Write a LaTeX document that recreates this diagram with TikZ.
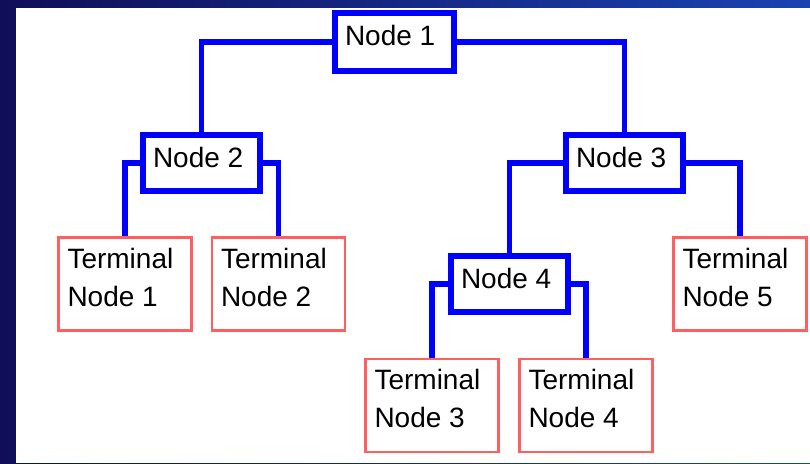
\documentclass[tikz,border=0pt]{standalone}
\usepackage{fontspec}
\setmainfont{Liberation Sans}
\definecolor{navy}{RGB}{16,14,88}
\definecolor{royal}{RGB}{26,66,178}
\definecolor{pinkred}{RGB}{255,95,95}
\begin{document}
\begin{tikzpicture}[x=1pt,y=-1pt,
  nodebox/.style={draw=blue,fill=white,line width=5.5pt,inner xsep=10pt,inner ysep=12.5pt},
  termbox/.style={draw=pinkred,fill=white,line width=2.2pt,inner xsep=9pt,inner ysep=10.5pt},
  link/.style={draw=blue,line width=5.5pt}]
\useasboundingbox (0,0) rectangle (810,463);
\fill [left color=navy,right color=royal] (0,0) rectangle (810,463);
\fill [white] (16,8) rectangle (810,463);
\begin{scope}[font=\fontsize{28}{38}\selectfont]
\node [nodebox] (n1) at (394.5,42)  {\parbox[c][33pt][t]{99pt}{Node 1}};
\node [nodebox] (n2) at (201.5,163) {\parbox[c][31pt][t]{97pt}{Node 2}};
\node [nodebox] (n3) at (624.5,163) {\parbox[c][31pt][t]{97pt}{Node 3}};
\node [nodebox] (n4) at (509.5,284) {\parbox[c][31pt][t]{97pt}{Node 4}};
\node [termbox] (t1) at (125,284)   {\parbox[c][72pt][t]{115pt}{Terminal\\Node 1}};
\node [termbox] (t2) at (278.5,284) {\parbox[c][72pt][t]{115pt}{Terminal\\Node 2}};
\node [termbox] (t5) at (740,284)   {\parbox[c][72pt][t]{115pt}{Terminal\\Node 5}};
\node [termbox] (t3) at (432,405.5) {\parbox[c][72pt][t]{115pt}{Terminal\\Node 3}};
\node [termbox] (t4) at (586,405.5) {\parbox[c][72pt][t]{115pt}{Terminal\\Node 4}};
\end{scope}
\draw [link] (n1.west) -| (n2.north);
\draw [link] (n1.east) -| (n3.north);
\draw [link] (n2.west) -| (t1.north);
\draw [link] (n2.east) -| (t2.north);
\draw [link] (n3.west) -| (n4.north);
\draw [link] (n3.east) -| (t5.north);
\draw [link] (n4.west) -| (t3.north);
\draw [link] (n4.east) -| (t4.north);
\end{tikzpicture}
\end{document}
